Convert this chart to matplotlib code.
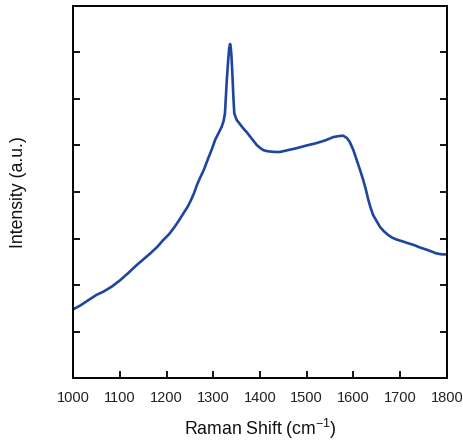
import numpy as np
import matplotlib
matplotlib.use("Agg")
import matplotlib.pyplot as plt

plt.rcParams['font.family'] = ['Liberation Sans', 'DejaVu Sans']
plt.rcParams['mathtext.fontset'] = 'custom'
plt.rcParams['mathtext.rm'] = 'Liberation Sans'

#Raman spectrum (arbitrary intensity units)
shift = [1000, 1015, 1030, 1050, 1065, 1083, 1100, 1118, 1136, 1150, 1165,
         1180, 1193, 1205, 1215, 1226, 1236, 1245, 1252, 1259, 1265, 1272,
         1280, 1289, 1297, 1304, 1311, 1318, 1322, 1325, 1327, 1329, 1332,
         1334, 1336, 1337.5, 1339, 1341.5, 1343, 1345, 1350, 1357, 1364,
         1372, 1379, 1386, 1393, 1400, 1407, 1414, 1421, 1432, 1443, 1460,
         1478, 1500, 1521, 1540, 1557, 1568, 1578, 1586, 1592, 1600, 1607,
         1614, 1621, 1627, 1632, 1637, 1642, 1650, 1657, 1665, 1674, 1683,
         1692, 1705, 1717, 1730, 1742, 1760, 1778, 1790, 1800]
intensity = [1.48, 1.56, 1.66, 1.79, 1.86, 1.97, 2.10, 2.26, 2.43, 2.55, 2.68,
             2.82, 2.97, 3.09, 3.22, 3.38, 3.54, 3.68, 3.82, 3.98, 4.15, 4.31,
             4.48, 4.72, 4.92, 5.12, 5.26, 5.40, 5.52, 5.69, 6.05, 6.41, 6.84,
             7.08, 7.18, 7.10, 6.91, 6.41, 6.05, 5.69, 5.55, 5.46, 5.37,
             5.28, 5.19, 5.10, 5.01, 4.95, 4.90, 4.88, 4.87, 4.86, 4.86, 4.90,
             4.94, 5.00, 5.05, 5.11, 5.18, 5.20, 5.21, 5.16, 5.08, 4.90, 4.69,
             4.48, 4.26, 4.04, 3.83, 3.66, 3.51, 3.37, 3.25, 3.16, 3.08, 3.02,
             2.98, 2.94, 2.90, 2.86, 2.81, 2.75, 2.68, 2.66, 2.66]

x_ticks = [1000, 1100, 1200, 1300, 1400, 1500, 1600, 1700, 1800]
y_ticks = [1, 2, 3, 4, 5, 6, 7]

fig = plt.figure(figsize=(4.63, 4.46), dpi=100)
ax = fig.add_axes([0.158, 0.152, 0.807, 0.835])
ax.plot(shift, intensity, color="#1f45a0", lw=1.9)

ax.set_xlim(1000, 1800)
ax.set_ylim(0, 8)
ax.set_xticks(x_ticks)
ax.set_yticks(y_ticks)
ax.set_yticklabels([])
ax.tick_params(axis='both', which='major', direction='in', length=5, width=1.3,
               labelsize=10.5, labelcolor='#222222', pad=9)
ax.tick_params(axis='y', right=True)
for s in ax.spines.values():
    s.set_linewidth(1.4)

ax.set_xlabel("Raman Shift (cm$^{-1}$)", fontsize=12.7, labelpad=9, color='#111111')
ax.set_ylabel("Intensity (a.u.)", fontsize=12.7, labelpad=24, color='#111111')

fig.savefig("out.png", dpi=100)
